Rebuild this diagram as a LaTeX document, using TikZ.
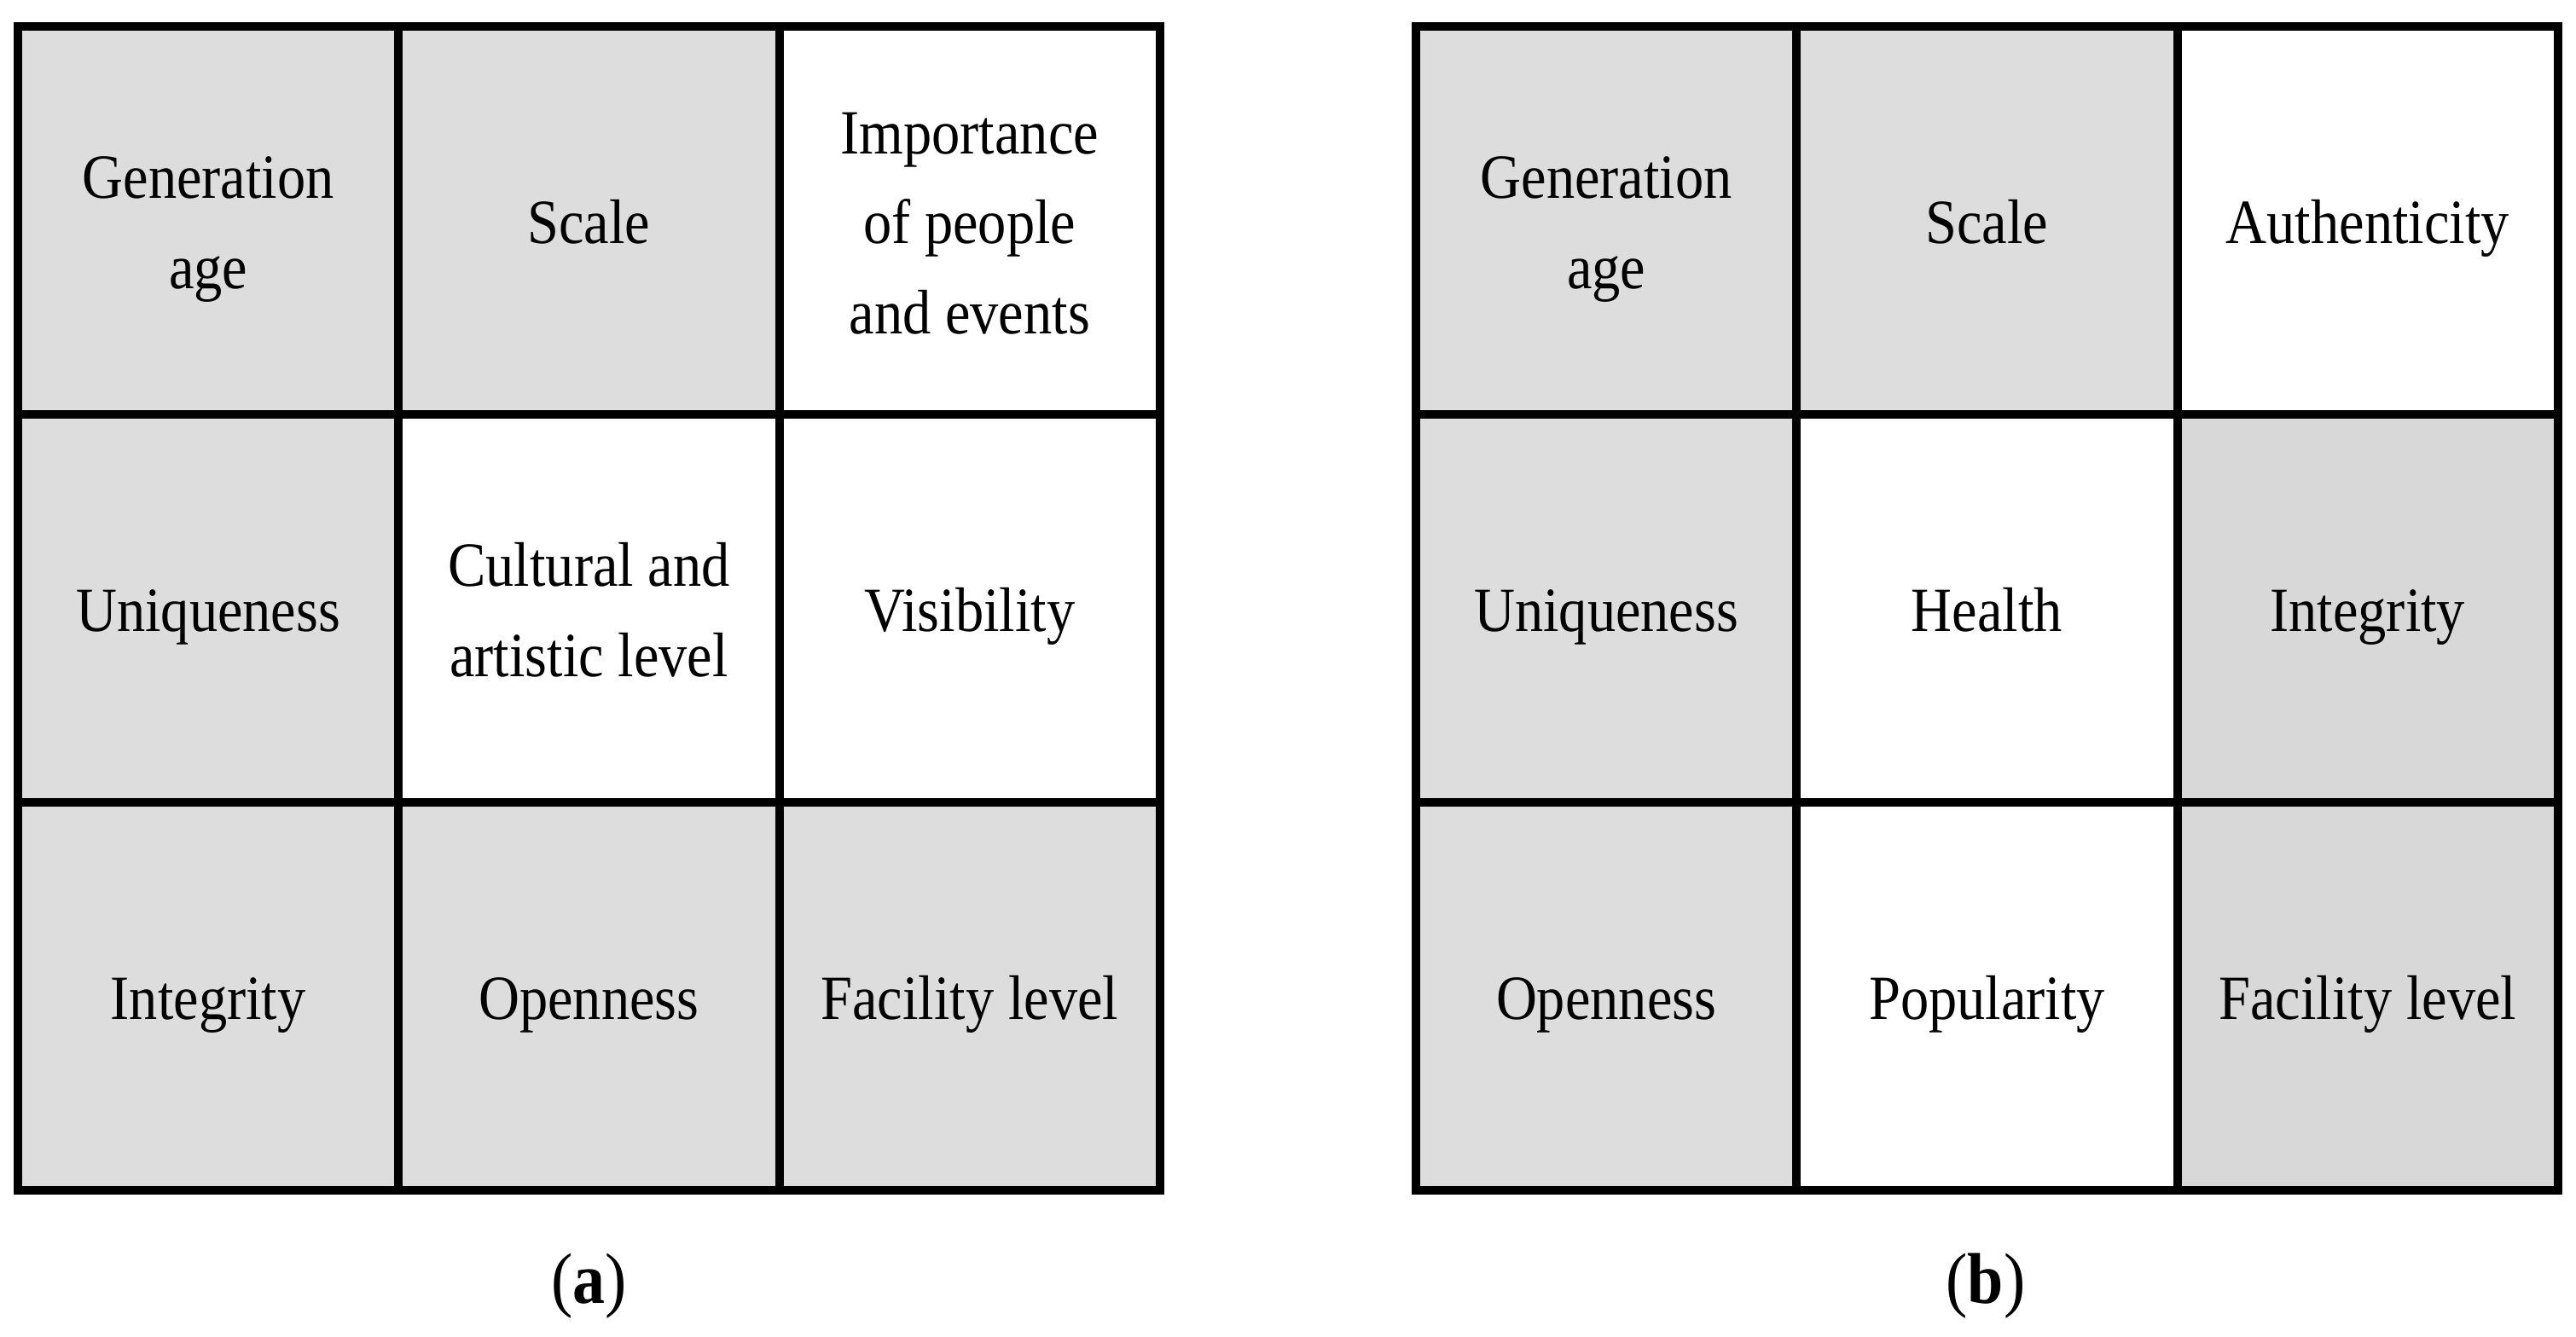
\documentclass[tikz,border=0pt]{standalone}
\usepackage{fontspec}
\setmainfont{Liberation Serif}[FakeStretch=0.9]
\usetikzlibrary{positioning}
\definecolor{cellgray}{HTML}{DDDDDD}
\definecolor{celldark}{HTML}{D8D8D8}
\newcommand{\celltext}[1]{\raisebox{-0.06cm}[\height][\depth]{\begin{tabular}{@{}c@{}}#1\end{tabular}}}

\begin{document}
\begin{tikzpicture}[
  cell/.style={draw=black,line width=0.1cm,minimum width=4.463cm,minimum height=4.55cm,
    inner sep=0pt,font=\fontsize{21}{30}\selectfont},
  subcap/.style={anchor=base,font=\fontsize{24}{28}\selectfont}]
  \useasboundingbox (0,0) rectangle (30.2,15.67);
  % panel (a)
  \foreach \r/\c/\f/\t [count=\i] in {0/0/cellgray/{Generation\\age},0/1/cellgray/{Scale},
      0/2/white/{Importance\\of people\\and events},1/0/cellgray/{Uniqueness},
      1/1/white/{Cultural and\\artistic level},1/2/white/{Visibility},
      2/0/cellgray/{Integrity},2/1/cellgray/{Openness},2/2/cellgray/{Facility level}}{
    \node[cell,fill=\f] (a\i) at ({0.21+4.463*(\c+0.5)},{15.36-4.55*(\r+0.5)}) {\celltext{\t}};
  }
  % panel (b)
  \foreach \r/\c/\f/\t [count=\i] in {0/0/cellgray/{Generation\\age},0/1/cellgray/{Scale},
      0/2/white/{Authenticity},1/0/cellgray/{Uniqueness},
      1/1/white/{Health},1/2/celldark/{Integrity},
      2/0/cellgray/{Openness},2/1/white/{Popularity},2/2/celldark/{Facility level}}{
    \node[cell,fill=\f] (b\i) at ({16.60+4.463*(\c+0.5)},{15.36-4.55*(\r+0.5)}) {\celltext{\t}};
  }
  \node[subcap] (capa) at (6.905,0.39) {(\textbf{a})};
  \node[subcap] (capb) at (23.28,0.39) {(\textbf{b})};
\end{tikzpicture}
\end{document}
